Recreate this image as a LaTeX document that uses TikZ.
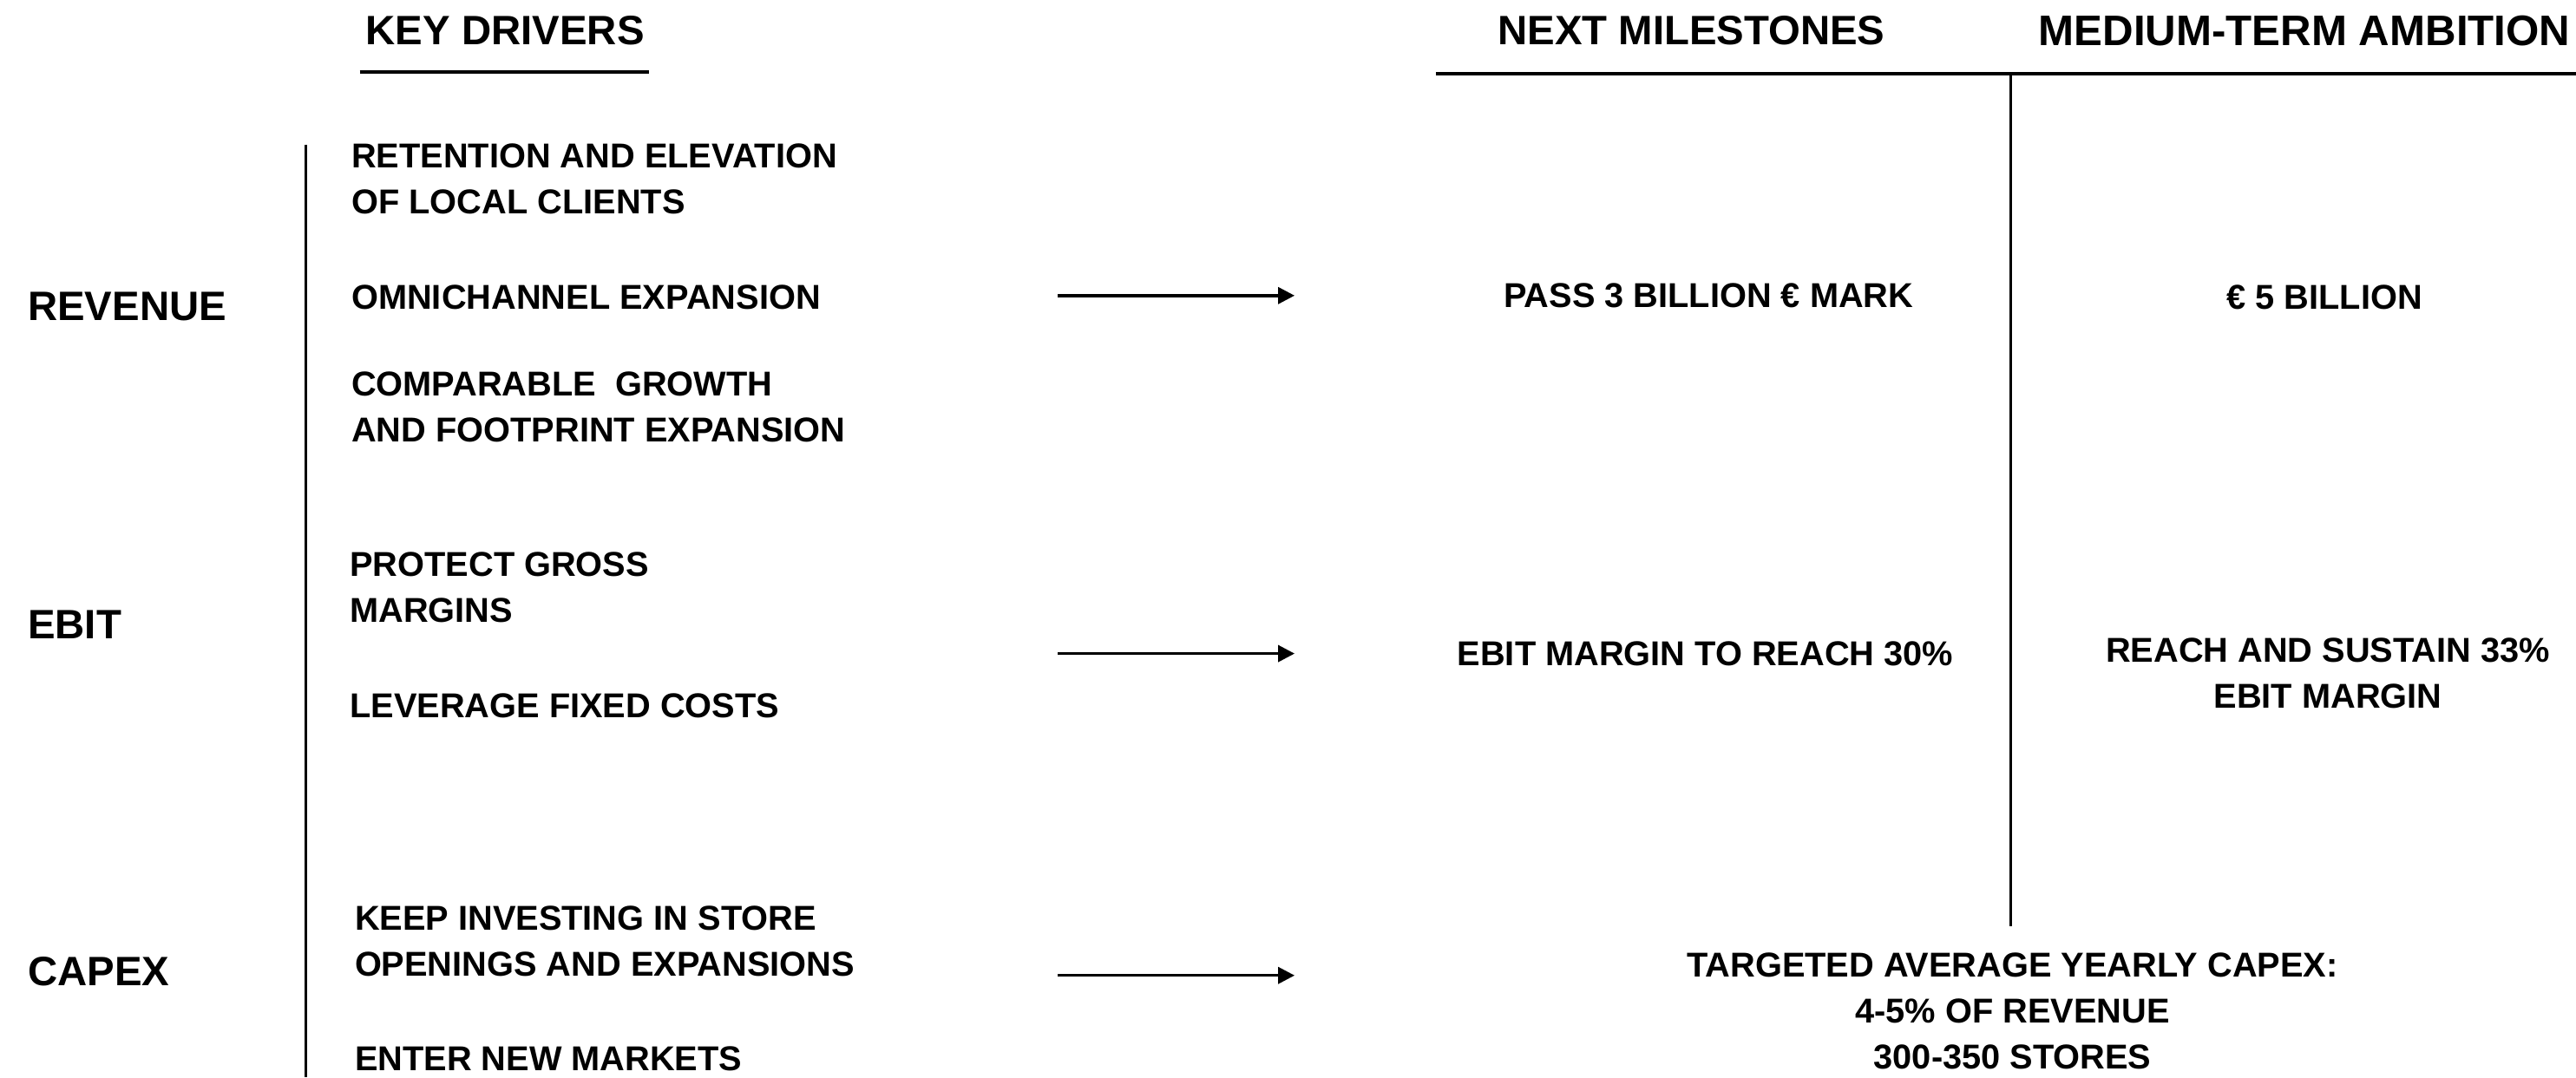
\documentclass[tikz,border=0pt]{standalone}
\usepackage{fontspec}
\setmainfont{Liberation Sans}
\usetikzlibrary{arrows.meta}
\begin{document}
\begin{tikzpicture}[x=0.5pt,y=-0.5pt,
  every node/.style={inner sep=0pt, outer sep=0pt},
  hdr/.style={font=\fontsize{12.5}{15}\selectfont\bfseries, anchor=north},
  cat/.style={font=\fontsize{12.5}{15}\selectfont\bfseries, anchor=north west},
  drv/.style={font=\fontsize{10.5}{14}\selectfont\bfseries, anchor=north west, align=left},
  res/.style={font=\fontsize{10.5}{14}\selectfont\bfseries, anchor=north, align=center},
  rule/.style={line width=1pt},
  sep/.style={line width=0.7pt},
  arr/.style={line width=0.9pt, -{Triangle[length=5pt,width=5pt]}}
]
\path[use as bounding box] (0,0) rectangle (1568,656);

% headers
\node[hdr] (hkd) at (307.5,10) {KEY DRIVERS};
\node[hdr] (hnm) at (1029.5,10) {NEXT MILESTONES};
\node[hdr, anchor=north west, font=\fontsize{13}{15}\selectfont\bfseries] (hmt) at (1241,9.5) {MEDIUM-TERM AMBITION};

% header rules
\coordinate (ul1) at (219,44);
\coordinate (ul2) at (395,44);
\draw[rule] (ul1) -- (ul2);
\coordinate (tr1) at (874,45);
\coordinate (tr2) at (1568,45);
\draw[rule] (tr1) -- (tr2);

% separators
\coordinate (lv1) at (186,88);
\coordinate (lv2) at (186,656);
\draw[sep] (lv1) -- (lv2);
\coordinate (mv1) at (1224,45);
\coordinate (mv2) at (1224,564);
\draw[sep] (mv1) -- (mv2);

% categories
\node[cat] (crev) at (17,178) {REVENUE};
\node[cat] (cebit) at (17,372) {EBIT};
\node[cat] (ccap) at (17,583) {CAPEX};

% drivers
\node[drv] (d1) at (214,87.5) {RETENTION AND ELEVATION\\OF LOCAL CLIENTS};
\node[drv] (d2) at (214,173.5) {OMNICHANNEL EXPANSION};
\node[drv] (d3) at (214,226.5) {COMPARABLE~~GROWTH\\AND FOOTPRINT EXPANSION};
\node[drv] (d4) at (213,336.5) {PROTECT GROSS\\MARGINS};
\node[drv] (d5) at (213,422.5) {LEVERAGE FIXED COSTS};
\node[drv] (d6) at (216,551.5) {KEEP INVESTING IN STORE\\OPENINGS AND EXPANSIONS};
\node[drv] (d7) at (216,637.5) {ENTER NEW MARKETS};

% arrows
\coordinate (a1s) at (644,180);
\coordinate (a1e) at (788,180);
\coordinate (a2s) at (644,398);
\coordinate (a2e) at (788,398);
\coordinate (a3s) at (644,594);
\coordinate (a3e) at (788,594);
\draw[arr] (a1s) -- (a1e);
\draw[arr] (a2s) -- (a2e);
\draw[arr] (a3s) -- (a3e);

% milestones / ambitions
\node[res] (m1) at (1040,172.5) {PASS 3 BILLION € MARK};
\node[res] (t1) at (1415,173.5) {€ 5 BILLION};
\node[res] (m2) at (1038,390.5) {EBIT MARGIN TO REACH 30\%};
\node[res] (t2) at (1417,388.5) {REACH AND SUSTAIN 33\%\\EBIT MARGIN};
\node[res] (m3) at (1225,580.5) {TARGETED AVERAGE YEARLY CAPEX:\\4-5\% OF REVENUE\\300-350 STORES};
\end{tikzpicture}
\end{document}
